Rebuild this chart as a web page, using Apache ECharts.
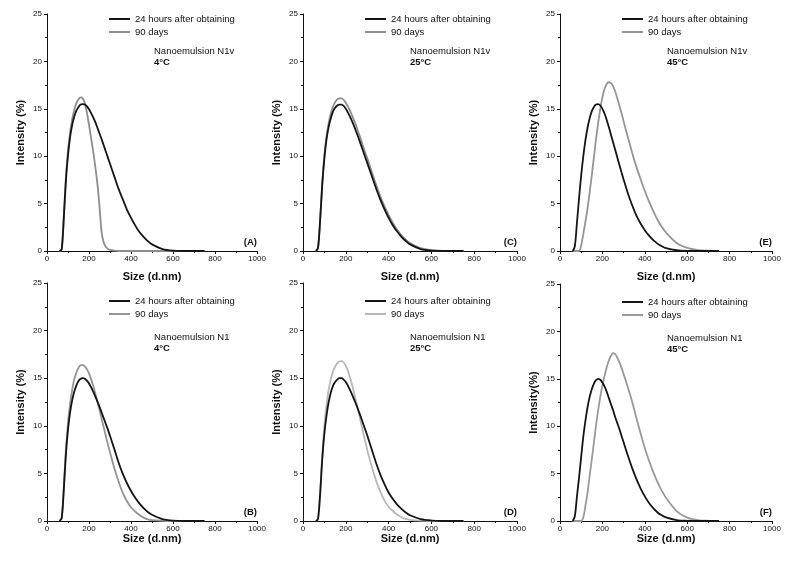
<!DOCTYPE html>
<html>
<head>
<meta charset="utf-8">
<script src="https://cdn.jsdelivr.net/npm/echarts@6/dist/echarts.min.js"></script>
<style>
  html, body { margin: 0; background: #fff; }
  #chart { width: 790px; height: 564px; }
</style>
</head>
<body>
<div id="chart"></div>
<script>
// particle size grid (d.nm) shared by every curve
var sizes = [60, 70, 80, 90, 100, 110, 120, 130, 140, 150, 160, 170, 180, 190, 200, 210, 220, 230, 240, 250,
  260, 270, 280, 290, 300, 320, 340, 360, 380, 400, 420, 440, 460, 480, 500, 550, 600, 650, 700, 750];

// intensity (%)
var n1v4_24h = [0, 0.2, 3.5, 7.4, 10.1, 12.0, 13.3, 14.2, 14.8, 15.2, 15.45, 15.5, 15.45, 15.25, 14.95, 14.55, 14.1, 13.6, 13.0, 12.4,
  11.8, 11.15, 10.5, 9.85, 9.2, 7.9, 6.6, 5.5, 4.4, 3.5, 2.7, 2.0, 1.5, 1.05, 0.7, 0.2, 0.03, 0, 0, 0];
var n1v4_90d = [0, 0.1, 3.6, 7.8, 10.6, 12.5, 13.9, 14.9, 15.6, 16.0, 16.2, 16.1, 15.6, 14.6, 13.3, 11.9, 10.5, 8.9, 7.1, 4.7,
  2.0, 0.9, 0.45, 0.22, 0.12, 0.04, 0, 0, 0, 0, 0, 0, 0, 0, 0, 0, 0, 0, 0, 0];
var n1v25_24h = [0, 0.3, 3.2, 7.0, 9.8, 11.8, 13.1, 14.0, 14.7, 15.1, 15.35, 15.45, 15.45, 15.3, 15.0, 14.6, 14.15, 13.65, 13.1, 12.5,
  11.9, 11.25, 10.6, 9.95, 9.3, 8.0, 6.7, 5.5, 4.45, 3.5, 2.7, 2.05, 1.5, 1.05, 0.7, 0.2, 0.04, 0, 0, 0];
var n1v25_90d = [0, 0.3, 3.3, 7.2, 10.1, 12.1, 13.5, 14.5, 15.2, 15.7, 16.0, 16.1, 16.1, 15.95, 15.65, 15.25, 14.8, 14.25, 13.7, 13.1,
  12.45, 11.8, 11.1, 10.45, 9.8, 8.45, 7.1, 5.85, 4.75, 3.8, 2.95, 2.25, 1.65, 1.2, 0.85, 0.3, 0.08, 0.02, 0, 0];
var n1v45_24h = [0, 0.5, 3.0, 5.6, 8.0, 10.0, 11.7, 13.0, 14.0, 14.75, 15.2, 15.45, 15.5, 15.35, 15.0, 14.5, 13.85, 13.1, 12.3, 11.5,
  10.7, 9.9, 9.1, 8.3, 7.55, 6.1, 4.85, 3.75, 2.9, 2.2, 1.62, 1.15, 0.78, 0.5, 0.3, 0.08, 0.01, 0, 0, 0];
var n1v45_90d = [0, 0, 0, 0, 0.6, 1.8, 3.1, 4.5, 6.2, 8.0, 9.9, 11.8, 13.5, 15.0, 16.2, 17.1, 17.6, 17.8, 17.7, 17.4,
  16.85, 16.15, 15.35, 14.55, 13.7, 12.0, 10.4, 8.9, 7.6, 6.35, 5.2, 4.2, 3.3, 2.55, 1.95, 0.85, 0.32, 0.1, 0.03, 0];
var n1_4_24h = [0, 0.3, 3.3, 7.0, 9.6, 11.4, 12.7, 13.6, 14.25, 14.7, 14.95, 15.0, 14.95, 14.75, 14.45, 14.05, 13.6, 13.1, 12.55, 12.0,
  11.4, 10.8, 10.2, 9.6, 8.95, 7.6, 6.2, 5.0, 4.0, 3.15, 2.45, 1.85, 1.35, 0.95, 0.65, 0.2, 0.04, 0, 0, 0];
var n1_4_90d = [0, 0.3, 3.5, 7.5, 10.3, 12.3, 13.8, 14.9, 15.6, 16.1, 16.35, 16.4, 16.25, 15.95, 15.5, 14.9, 14.2, 13.4, 12.55, 11.65,
  10.75, 9.85, 8.95, 8.05, 7.2, 5.6, 4.2, 3.0, 2.1, 1.45, 1.0, 0.62, 0.35, 0.18, 0.09, 0.02, 0, 0, 0, 0];
var n1_25_24h = [0, 0.2, 2.8, 6.5, 9.2, 11.1, 12.5, 13.5, 14.2, 14.6, 14.85, 15.0, 15.0, 14.85, 14.6, 14.2, 13.75, 13.25, 12.7, 12.15,
  11.55, 10.95, 10.3, 9.65, 9.0, 7.6, 6.2, 4.95, 3.9, 3.0, 2.3, 1.72, 1.28, 0.9, 0.6, 0.2, 0.05, 0, 0, 0];
var n1_25_90d = [0, 0.2, 3.0, 7.0, 10.0, 12.2, 13.8, 14.9, 15.7, 16.2, 16.55, 16.75, 16.8, 16.65, 16.3, 15.75, 15.05, 14.25, 13.35, 12.4,
  11.4, 10.4, 9.4, 8.45, 7.5, 5.8, 4.35, 3.15, 2.2, 1.5, 1.05, 0.68, 0.4, 0.22, 0.12, 0.03, 0, 0, 0, 0];
var n1_45_24h = [0, 0.5, 2.6, 4.6, 6.8, 8.9, 10.6, 12.0, 13.1, 13.9, 14.5, 14.85, 15.0, 14.9, 14.6, 14.2, 13.65, 13.0, 12.35, 11.7,
  11.0, 10.35, 9.7, 9.0, 8.3, 6.9, 5.6, 4.45, 3.45, 2.6, 1.9, 1.35, 0.9, 0.6, 0.38, 0.1, 0.02, 0, 0, 0];
var n1_45_90d = [0, 0, 0, 0, 0, 0.4, 1.6, 3.0, 4.8, 6.5, 8.3, 10.1, 11.7, 13.1, 14.3, 15.3, 16.2, 16.9, 17.4, 17.7,
  17.6, 17.25, 16.75, 16.15, 15.5, 14.1, 12.6, 10.9, 9.25, 7.7, 6.35, 5.15, 4.1, 3.2, 2.45, 1.05, 0.35, 0.1, 0.02, 0];

var seriesNames = ['24 hours after obtaining', '90 days'];
var FONT = '"Liberation Sans", Arial, sans-serif';
var BLACK = '#151515';

var panels = [
  { tag: '(A)', sample: 'Nanoemulsion N1v', temp: '4°C', first: n1v4_24h, second: n1v4_90d, gray: '#8e8e8e',
    grid: { left: 47, top: 14, width: 210, height: 237 }, xGap: 20, yName: 'Intensity (%)' },
  { tag: '(C)', sample: 'Nanoemulsion N1v', temp: '25°C', first: n1v25_24h, second: n1v25_90d, gray: '#8e8e8e',
    grid: { left: 303, top: 14, width: 214, height: 237 }, xGap: 20, yName: 'Intensity (%)' },
  { tag: '(E)', sample: 'Nanoemulsion N1v', temp: '45°C', first: n1v45_24h, second: n1v45_90d, gray: '#959595',
    grid: { left: 560, top: 14, width: 212, height: 237 }, xGap: 20, yName: 'Intensity (%)' },
  { tag: '(B)', sample: 'Nanoemulsion N1', temp: '4°C', first: n1_4_24h, second: n1_4_90d, gray: '#959595',
    grid: { left: 47, top: 283, width: 210, height: 238 }, xGap: 10, yName: 'Intensity (%)' },
  { tag: '(D)', sample: 'Nanoemulsion N1', temp: '25°C', first: n1_25_24h, second: n1_25_90d, gray: '#b8b8b8',
    grid: { left: 303, top: 283, width: 214, height: 238 }, xGap: 10, yName: 'Intensity (%)' },
  { tag: '(F)', sample: 'Nanoemulsion N1', temp: '45°C', first: n1_45_24h, second: n1_45_90d, gray: '#9a9a9a',
    grid: { left: 560, top: 284, width: 212, height: 237 }, xGap: 10, yName: 'Intensity(%)' }
];

function pairs(vals) {
  return sizes.map(function (s, k) { return [s, vals[k]]; });
}
function plain(v) { return String(v); }

var grids = [], xAxes = [], yAxes = [], series = [], legends = [], titles = [];

panels.forEach(function (p, i) {
  var g = p.grid;
  grids.push({ left: g.left, top: g.top, width: g.width, height: g.height, containLabel: false });

  xAxes.push({
    gridIndex: i, type: 'value', min: 0, max: 1000, interval: 200,
    name: 'Size (d.nm)', nameLocation: 'middle', nameGap: p.xGap,
    nameTextStyle: { fontFamily: FONT, fontSize: 11, fontWeight: 'bold', color: '#111' },
    axisLine: { onZero: false, lineStyle: { color: '#111', width: 1 } },
    axisTick: { length: 3, lineStyle: { color: '#111' } },
    minorTick: { show: true, splitNumber: 2, length: 2, lineStyle: { color: '#111' } },
    axisLabel: { fontFamily: FONT, fontSize: 8, color: '#111', margin: 4, formatter: plain },
    splitLine: { show: false }
  });
  yAxes.push({
    gridIndex: i, type: 'value', min: 0, max: 25, interval: 5,
    name: p.yName, nameLocation: 'middle', nameGap: 21,
    nameTextStyle: { fontFamily: FONT, fontSize: 11, fontWeight: 'bold', color: '#111' },
    axisLine: { show: true, onZero: false, lineStyle: { color: '#111', width: 1 } },
    axisTick: { show: true, length: 3, lineStyle: { color: '#111' } },
    minorTick: { show: true, splitNumber: 2, length: 2, lineStyle: { color: '#111' } },
    axisLabel: { fontFamily: FONT, fontSize: 8, color: '#111', margin: 5, formatter: plain },
    splitLine: { show: false }
  });

  // gray first so the black curve sits on top
  series.push({
    name: seriesNames[1], type: 'line', xAxisIndex: i, yAxisIndex: i,
    data: pairs(p.second), symbol: 'none', smooth: 0.3, silent: true,
    lineStyle: { color: p.gray, width: 1.8 }, itemStyle: { color: p.gray }
  });
  series.push({
    name: seriesNames[0], type: 'line', xAxisIndex: i, yAxisIndex: i,
    data: pairs(p.first), symbol: 'none', smooth: 0.3, silent: true,
    lineStyle: { color: BLACK, width: 1.8 }, itemStyle: { color: BLACK }
  });

  legends.push({
    orient: 'vertical', left: g.left + 62, top: g.top + (i < 3 ? 0 : 13),
    padding: 0, icon: 'rect', itemWidth: 21, itemHeight: 2, itemGap: 3, selectedMode: false,
    textStyle: { fontFamily: FONT, fontSize: 9.5, color: '#111' },
    data: [
      { name: seriesNames[0], itemStyle: { color: BLACK } },
      { name: seriesNames[1], itemStyle: { color: p.gray } }
    ]
  });

  titles.push({
    text: p.sample, subtext: p.temp,
    left: g.left + 107, top: g.top + (i < 3 ? 32 : 49), padding: 0, itemGap: 1,
    textStyle: { fontFamily: FONT, fontSize: 9.5, fontWeight: 'normal', color: '#111' },
    subtextStyle: { fontFamily: FONT, fontSize: 9.5, fontWeight: 'bold', color: '#111' }
  });
  titles.push({
    text: p.tag, right: 790 - (g.left + g.width), top: g.top + g.height - 14, padding: 0,
    textStyle: { fontFamily: FONT, fontSize: 9.5, fontWeight: 'bold', color: '#111' }
  });
});

var myChart = echarts.init(document.getElementById('chart'));
myChart.setOption({
  backgroundColor: '#fff',
  animation: false,
  title: titles,
  legend: legends,
  grid: grids,
  xAxis: xAxes,
  yAxis: yAxes,
  series: series
});
</script>
</body>
</html>
